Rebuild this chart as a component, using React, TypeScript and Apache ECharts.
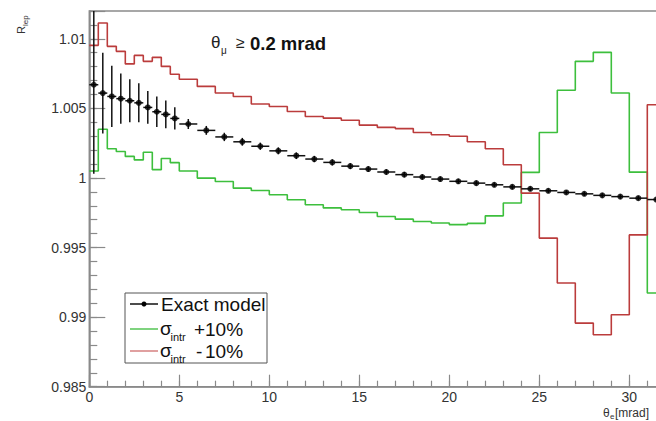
import { useEffect, useRef } from "react";
import * as echarts from "echarts";

// Bin edges in mrad (0.5 mrad bins up to 5, 1 mrad bins after)
const binEdges = [0, 0.5, 1, 1.5, 2, 2.5, 3, 3.5, 4, 4.5, 5, 6, 7, 8, 9, 10, 11, 12, 13, 14, 15, 16, 17, 18, 19, 20, 21, 22, 23, 24, 25, 26, 27, 28, 29, 30, 31, 32];

// Exact model (black points with errors)
const exactValues = [
  1.0067, 1.0061, 1.00586, 1.0057, 1.00555, 1.0054, 1.00507, 1.00476, 1.00457, 1.00428,
  1.00388, 1.00342, 1.00295, 1.0026, 1.00228, 1.00195, 1.0016, 1.00136, 1.00112, 1.00085,
  1.00064, 1.00043, 1.00024, 1.00007, 0.99992, 0.99976, 0.99963, 0.99951, 0.99936, 0.99922,
  0.99908, 0.99896, 0.99886, 0.99875, 0.99866, 0.99855, 0.99845,
];
const exactErrors = [
  0.0064, 0.0029, 0.0022, 0.0018, 0.00155, 0.0014, 0.00118, 0.0011, 0.001, 0.0008,
  0.00036, 0.00032, 0.0003, 0.00028, 0.00026, 0.00025, 0.00024, 0.00023, 0.00022, 0.00021,
  0.0002, 0.0002, 0.00019, 0.00019, 0.00018, 0.00018, 0.00018, 0.00017, 0.00017, 0.00017,
  0.00017, 0.00016, 0.00016, 0.00016, 0.00016, 0.00016, 0.00016,
];
// sigma_intr + 10% (green)
const sigmaPlusValues = [
  1.0005, 1.0035, 1.0021, 1.0019, 1.00155, 1.0013, 1.00185, 1.0006, 1.0014, 1.0011,
  1.0005, 0.99999, 0.99975, 0.99927, 0.9991, 0.9988, 0.99844, 0.99808, 0.99785, 0.99772,
  0.99752, 0.99723, 0.99704, 0.99687, 0.99676, 0.99665, 0.99674, 0.99728, 0.9982, 1.0004,
  1.00327, 1.0063, 1.00838, 1.00903, 1.00611, 1.00042, 0.99173,
];
// sigma_intr - 10% (red)
const sigmaMinusValues = [
  1.00953, 1.01114, 1.00946, 1.0091, 1.0082, 1.00881, 1.00838, 1.00867, 1.00802, 1.00745,
  1.0071, 1.00658, 1.00611, 1.00586, 1.00532, 1.00514, 1.00478, 1.00442, 1.0043, 1.00415,
  1.0038, 1.00364, 1.00355, 1.00327, 1.00311, 1.003, 1.0026, 1.0021, 1.00095, 0.99891,
  0.99568, 0.99245, 0.98957, 0.98873, 0.99017, 0.99591, 1.00526,
];

const X_MIN = 0;
const X_MAX = 32;
const Y_MIN = 0.985;
const Y_MAX = 1.012;

const FONT = "Liberation Sans, Arial, Helvetica, sans-serif";
const GREEN = "#3dbf3d";
const RED = "#bb3c3c";
const AXIS = "#8a8a8a";

function stepData(vals: number[]) {
  return binEdges.map((e, i) => [e, i < vals.length ? vals[i] : vals[vals.length - 1]]);
}

export default function App() {
  const ref = useRef<HTMLDivElement>(null);
  useEffect(() => {
    if (!ref.current) return;
    const chart = echarts.init(ref.current, undefined, { renderer: "svg" });
    const errData = exactValues.map((v, i) => [binEdges[i], binEdges[i + 1], v, exactErrors[i]]);
    const pts = exactValues.map((v, i) => [(binEdges[i] + binEdges[i + 1]) / 2, v]);
    const yFmt = (v: number) => {
      const r = Math.round(v * 1000);
      if (r % 5 !== 0) return "";
      return String(r / 1000);
    };
    chart.setOption({
      animation: false,
      backgroundColor: "#fff",
      grid: {
        left: 89.3,
        top: 11,
        width: 576,
        height: 375.7,
        show: true,
        borderColor: AXIS,
        borderWidth: 1.5,
        backgroundColor: "transparent",
      },
      xAxis: [
        {
          type: "value", min: X_MIN, max: X_MAX, interval: 5, position: "bottom",
          axisLine: { show: true, onZero: false, lineStyle: { color: AXIS, width: 1.5 } },
          axisTick: { show: true, inside: true, length: 12, lineStyle: { color: AXIS, width: 1.2 } },
          axisLabel: {
            fontSize: 14, color: "#333", fontFamily: FONT, margin: 3,
            formatter: (v: number) => (v % 5 === 0 && v <= 30 ? String(v) : ""),
          },
          splitLine: { show: false },
        },
        {
          type: "value", min: X_MIN, max: X_MAX, interval: 1, position: "bottom",
          axisLine: { show: false, onZero: false },
          axisTick: { show: true, inside: true, length: 6, lineStyle: { color: AXIS, width: 1.2 } },
          axisLabel: { show: false },
          splitLine: { show: false },
        },
      ],
      yAxis: [
        {
          type: "value", min: Y_MIN, max: Y_MAX, interval: 0.005, position: "left",
          axisLine: { show: true, onZero: false, lineStyle: { color: AXIS, width: 1.5 } },
          axisTick: { show: true, inside: true, length: 16, lineStyle: { color: AXIS, width: 1.2 } },
          axisLabel: { fontSize: 14, color: "#333", fontFamily: FONT, margin: 3, formatter: yFmt },
          splitLine: { show: false },
        },
        {
          type: "value", min: Y_MIN, max: Y_MAX, interval: 0.001, position: "left",
          axisLine: { show: false, onZero: false },
          axisTick: { show: true, inside: true, length: 8, lineStyle: { color: AXIS, width: 1.2 } },
          axisLabel: { show: false },
          splitLine: { show: false },
        },
      ],
      series: [
        {
          name: "σintr + 10%", type: "line", step: "end", xAxisIndex: 0, yAxisIndex: 0,
          showSymbol: false, data: stepData(sigmaPlusValues),
          lineStyle: { color: GREEN, width: 1.6 }, z: 2,
        },
        {
          name: "σintr - 10%", type: "line", step: "end", xAxisIndex: 0, yAxisIndex: 0,
          showSymbol: false, data: stepData(sigmaMinusValues),
          lineStyle: { color: RED, width: 1.6 }, z: 2,
        },
        {
          name: "Exact model errors", type: "custom", xAxisIndex: 0, yAxisIndex: 0,
          data: errData, z: 3,
          renderItem: (_p: any, api: any) => {
            const lo = api.value(0), hi = api.value(1), v = api.value(2), e = api.value(3);
            const c = (lo + hi) / 2;
            const top = Math.min(v + e, Y_MAX);
            const bot = Math.max(v - e, Y_MIN);
            const a = api.coord([lo, v]);
            const b = api.coord([hi, v]);
            const t = api.coord([c, top]);
            const d = api.coord([c, bot]);
            return {
              type: "group",
              children: [
                { type: "line", shape: { x1: a[0], y1: a[1], x2: b[0], y2: b[1] }, style: { stroke: "#111", lineWidth: 1.5 } },
                { type: "line", shape: { x1: t[0], y1: t[1], x2: d[0], y2: d[1] }, style: { stroke: "#111", lineWidth: 1.5 } },
              ],
            };
          },
        },
        {
          name: "Exact model", type: "scatter", xAxisIndex: 0, yAxisIndex: 0,
          data: pts, symbol: "circle", symbolSize: 6, itemStyle: { color: "#000" }, z: 4,
        },
      ],
      graphic: [
        // y-axis title R_lep (rotated)
        {
          type: "group", x: 26, y: 34, rotation: Math.PI / 2,
          children: [
            { type: "text", x: 0, y: 0, style: { text: "R", font: `11px ${FONT}`, fill: "#333", verticalAlign: "bottom" } },
            { type: "text", x: 8, y: 3, style: { text: "lep", font: `8px ${FONT}`, fill: "#333", verticalAlign: "bottom" } },
          ],
        },
        // x-axis title
        { type: "text", x: 603, y: 413, style: { text: "θ", font: `12px ${FONT}`, fill: "#333", verticalAlign: "middle" } },
        { type: "text", x: 610, y: 416.5, style: { text: "e", font: `8px ${FONT}`, fill: "#333", verticalAlign: "middle" } },
        { type: "text", x: 615, y: 413, style: { text: "[mrad]", font: `12px ${FONT}`, fill: "#333", verticalAlign: "middle" } },
        // cut annotation
        { type: "text", x: 211, y: 42, style: { text: "θ", font: `17px ${FONT}`, fill: "#222", verticalAlign: "middle" } },
        { type: "text", x: 221, y: 50, style: { text: "μ", font: `10px ${FONT}`, fill: "#222", verticalAlign: "middle" } },
        { type: "text", x: 236, y: 42, style: { text: "≥", font: `16px ${FONT}`, fill: "#222", verticalAlign: "middle" } },
        { type: "text", x: 250, y: 43, style: { text: "0.2 mrad", font: `bold 18.5px ${FONT}`, fill: "#111", verticalAlign: "middle" } },
        // legend
        { type: "rect", shape: { x: 125, y: 293, width: 142, height: 70 }, style: { fill: "#fff", stroke: "#555", lineWidth: 1 }, z: 10 },
        { type: "line", shape: { x1: 130, y1: 304, x2: 158, y2: 304 }, style: { stroke: "#111", lineWidth: 1.5 }, z: 11 },
        { type: "circle", shape: { cx: 144, cy: 304, r: 2.5 }, style: { fill: "#000" }, z: 11 },
        { type: "text", x: 161, y: 304, style: { text: "Exact model", font: `19px ${FONT}`, fill: "#111", verticalAlign: "middle" }, z: 11 },
        { type: "line", shape: { x1: 130, y1: 329, x2: 158, y2: 329 }, style: { stroke: "#7fd37f", lineWidth: 2 }, z: 11 },
        { type: "text", x: 160, y: 328, style: { text: "σ", font: `19px ${FONT}`, fill: "#111", verticalAlign: "middle" }, z: 11 },
        { type: "text", x: 170.5, y: 337, style: { text: "intr", font: `11px ${FONT}`, fill: "#111", verticalAlign: "middle" }, z: 11 },
        { type: "text", x: 194, y: 329, style: { text: "+", font: `19px ${FONT}`, fill: "#111", verticalAlign: "middle" }, z: 11 },
        { type: "text", x: 205, y: 329, style: { text: "10%", font: `19px ${FONT}`, fill: "#111", verticalAlign: "middle" }, z: 11 },
        { type: "line", shape: { x1: 130, y1: 351, x2: 158, y2: 351 }, style: { stroke: "#e0a0a0", lineWidth: 2 }, z: 11 },
        { type: "text", x: 160, y: 350, style: { text: "σ", font: `19px ${FONT}`, fill: "#111", verticalAlign: "middle" }, z: 11 },
        { type: "text", x: 170.5, y: 359, style: { text: "intr", font: `11px ${FONT}`, fill: "#111", verticalAlign: "middle" }, z: 11 },
        { type: "text", x: 196, y: 351, style: { text: "-", font: `19px ${FONT}`, fill: "#111", verticalAlign: "middle" }, z: 11 },
        { type: "text", x: 205, y: 351, style: { text: "10%", font: `19px ${FONT}`, fill: "#111", verticalAlign: "middle" }, z: 11 },
      ],
    });
    return () => chart.dispose();
  }, []);
  return (
    <div style={{ position: "fixed", left: 0, top: 0, width: 656, height: 421, overflow: "hidden", background: "#fff" }}>
      <div ref={ref} style={{ width: 720, height: 421 }} />
    </div>
  );
}
